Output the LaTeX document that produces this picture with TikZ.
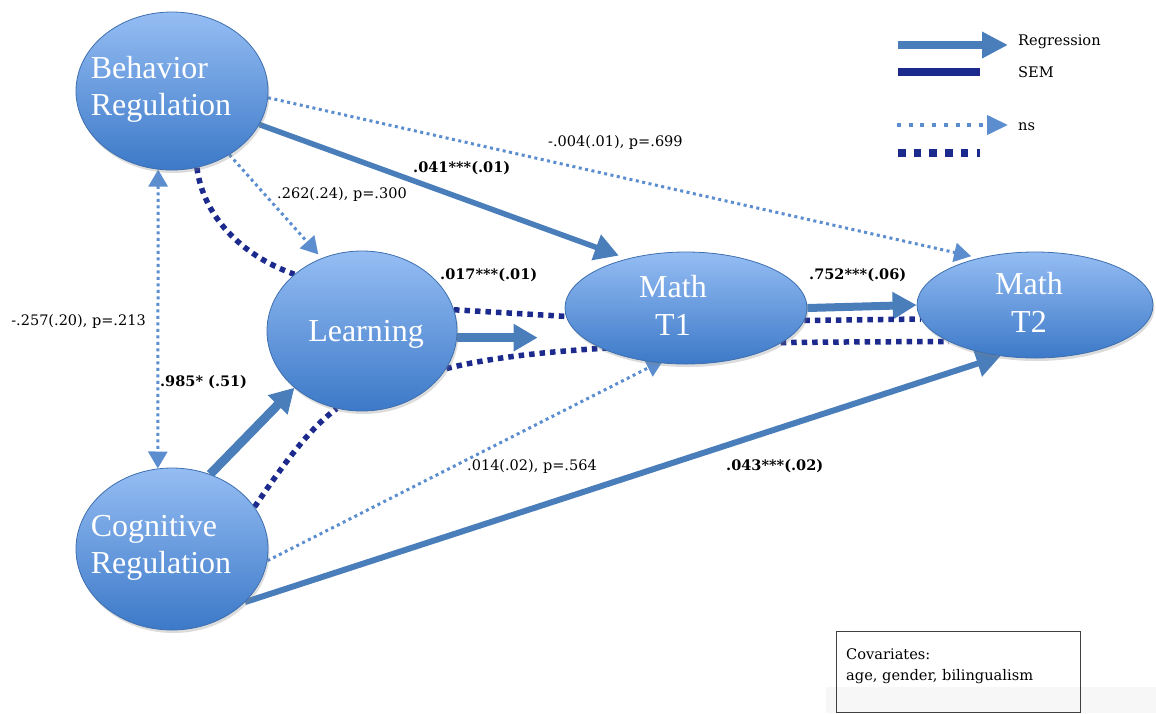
\documentclass[tikz,border=0pt]{standalone}
\usepackage{fontspec}
\setmainfont{Liberation Serif}
\newfontfamily\numfont{DejaVu Serif}
\usetikzlibrary{arrows.meta,shapes.geometric,shadows}
\pgfdeclarelayer{edges}
\pgfsetlayers{edges,main}

\definecolor{regblue}{HTML}{4A7EBB}
\definecolor{nsblue}{HTML}{5B8DCF}
\definecolor{semnavy}{HTML}{1C2A8E}
\definecolor{ovaltop}{HTML}{95BDF3}
\definecolor{ovalbot}{HTML}{3C79C8}
\definecolor{ovalrim}{HTML}{3E6FAE}
\definecolor{bandgray}{HTML}{F7F7F7}

\tikzset{
  oval/.style={ellipse, draw=ovalrim, line width=0.8pt, top color=ovaltop,
    bottom color=ovalbot, inner sep=0pt,
    drop shadow={opacity=0.28, shadow xshift=1.5pt, shadow yshift=-3pt}},
  ovaltext/.style={text=white, font=\fontsize{32}{37}\selectfont, align=left, inner sep=0pt},
  regline/.style={draw=regblue, line width=#1, -{Triangle[length=24pt,width=26pt]}},
  nsline/.style={draw=nsblue, line width=3pt, dash pattern=on 3pt off 3.5pt},
  nsarrow/.style={nsline, -{Triangle[length=17pt,width=19pt]}},
  semline/.style={draw=semnavy, line width=5.5pt, dash pattern=on 5.5pt off 5pt},
  lab/.style={font=\numfont\fontsize{14.5}{16}\selectfont, inner sep=0pt, anchor=base west},
  blab/.style={font=\numfont\bfseries\fontsize{14.5}{16}\selectfont, inner sep=0pt, anchor=base west},
  legtext/.style={font=\numfont\fontsize{14.6}{17}\selectfont, inner sep=0pt, anchor=base west},
}

\begin{document}
\begin{tikzpicture}[x=1pt, y=-1pt]
\useasboundingbox (0,0) rectangle (1156,713);
\fill[bandgray] (826,687) rectangle (1156,713);

% constructs
\node[oval, minimum width=192pt, minimum height=158pt] (br) at (172,91) {};
\node[oval, minimum width=190pt, minimum height=160pt] (lr) at (362,331) {};
\node[oval, minimum width=192pt, minimum height=162pt] (cr) at (172,549) {};
\node[oval, minimum width=242pt, minimum height=112pt] (t1) at (686,308) {};
\node[oval, minimum width=236pt, minimum height=106pt] (t2) at (1035,305) {};

\node[ovaltext] (brtxt) at (161,89) {Behavior\\Regulation};
\node[ovaltext] (lrtxt) at (366,334) {Learning};
\node[ovaltext] (crtxt) at (161,548) {Cognitive\\Regulation};
\node[ovaltext, align=center, font=\fontsize{32}{38}\selectfont] (t1txt) at (673,305) {Math\\T1};
\node[ovaltext, align=center, font=\fontsize{32}{38}\selectfont] (t2txt) at (1029,302) {Math\\T2};

\begin{pgfonlayer}{edges}
  % significant regression paths
  \draw[regline=5.5pt, shorten >=9pt] (br.-21) -- (t1.140);
  \draw[regline=9pt] (cr.63) -- (lr.-140);
  \draw[regline=9pt, shorten >=27pt] (lr.-4) -- (lr.-4 -| t1.west);
  \draw[regline=8pt] (t1.east) -- (t2.west);
  \draw[regline=6pt] (cr.-36) -- (t2.-124);
  % non-significant paths
  \draw[nsarrow, shorten >=8pt] (br.-4) -- (t2.140);
  \draw[nsarrow, shorten >=5pt] (br.-48) -- (lr.119);
  \draw[nsline, {Triangle[length=17pt,width=19pt]}-{Triangle[length=17pt,width=19pt]}] (br.-100) -- (cr.100);
  \draw[nsarrow, shorten >=-6pt] (cr.-7) -- (t1.-117);
  % SEM paths
  \draw[semline] (br.-72) .. controls (203,215) and (240,255) .. (lr.140);
  \draw[semline] (cr.27) .. controls (285,462) and (310,428) .. (lr.-108);
  \draw[semline] (lr.13) -- (t1.184);
  \draw[semline] (lr.-24) .. controls (540,345) and (700,342) .. (t2.203);
  \draw[semline] (t1.-6) -- (t2.187);
\end{pgfonlayer}

% path coefficients
\node[lab]  (c1) at (548,146) {-.004(.01), p=.699};
\node[blab] (c2) at (413,172) {.041***(.01)};
\node[lab]  (c3) at (277,198) {.262(.24), p=.300};
\node[blab] (c4) at (440,279) {.017***(.01)};
\node[blab] (c5) at (809,279) {.752***(.06)};
\node[lab, anchor=base east] (c6) at (146,325) {-.257(.20), p=.213};
\node[blab] (c7) at (160,386) {.985* (.51)};
\node[lab]  (c8) at (467,470) {.014(.02), p=.564};
\node[blab] (c9) at (726,470) {.043***(.02)};

% legend
\coordinate (lgA1) at (898,45);  \coordinate (lgA2) at (1008,45);
\coordinate (lgB1) at (898,72);  \coordinate (lgB2) at (980,72);
\coordinate (lgC1) at (897,125); \coordinate (lgC2) at (1008,125);
\coordinate (lgD1) at (898,153); \coordinate (lgD2) at (980,153);
\draw[draw=regblue, line width=8pt, -{Triangle[length=26pt,width=25pt]}] (lgA1) -- (lgA2);
\draw[draw=semnavy, line width=8pt] (lgB1) -- (lgB2);
\draw[draw=nsblue, line width=4pt, dash pattern=on 4pt off 7.7pt, -{Triangle[length=21pt,width=19pt]}] (lgC1) -- (lgC2);
\draw[draw=semnavy, line width=8pt, dash pattern=on 7.5pt off 8.2pt] (lgD1) -- (lgD2);
\node[legtext] (lgAt) at (1018,45) {Regression};
\node[legtext] (lgBt) at (1018,77) {SEM};
\node[legtext] (lgCt) at (1018,130) {ns};

% covariates box
\node[draw=black!75, line width=1pt, minimum width=244pt, minimum height=81pt,
      anchor=north west, inner sep=0pt] (cov) at (836,631) {};
\node[legtext, align=left, font=\numfont\fontsize{14.6}{21}\selectfont, anchor=base west] (covtxt) at (846,680) {Covariates:\\age, gender, bilingualism};
\end{tikzpicture}
\end{document}
